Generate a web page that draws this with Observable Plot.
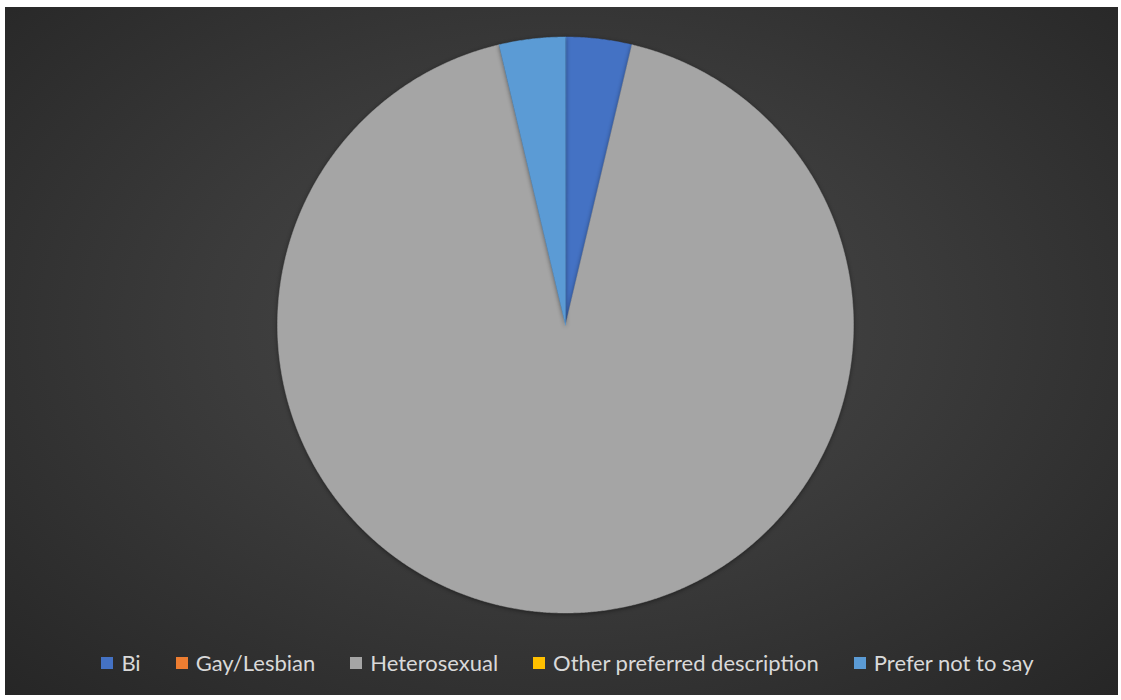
<!DOCTYPE html>
<html>
<head>
<meta charset="utf-8">
<script src="https://cdn.jsdelivr.net/npm/d3@7"></script>
<script src="https://cdn.jsdelivr.net/npm/@observablehq/plot@0.6"></script>
<style>
  html, body { margin: 0; padding: 0; background: #ffffff; }
  #chart {
    position: absolute; left: 5px; top: 7px; width: 1113px; height: 688px;
    background: radial-gradient(ellipse at 50% 46%, #4a4a4a 0%, #3b3b3b 45%, #262626 100%);
    overflow: hidden;
  }
  #plot { position: absolute; left: 0; top: 0; }
  #legend {
    position: absolute; left: 0; width: 1113px; top: 642px;
    display: flex; justify-content: center; gap: 35px;
    font-family: "Lato", "Open Sans", sans-serif; font-size: 22px; color: #d9d9d9;
    padding-left: 12px; box-sizing: border-box;
  }
  .item { display: flex; align-items: center; gap: 8px; white-space: nowrap; }
  .sw { width: 12px; height: 12px; display: inline-block; margin-top: 1px; }
  svg path { filter: drop-shadow(0px 1px 2px rgba(0,0,0,0.45)); }
</style>
</head>
<body>
<div id="chart">
  <div id="plot"></div>
  <div id="legend"></div>
</div>
<script>
const categories = ["Bi", "Gay/Lesbian", "Heterosexual", "Other preferred description", "Prefer not to say"];
const values = [1, 0, 25, 0, 1];
const colors = ["#4472C4", "#ED7D31", "#A5A5A5", "#FFC000", "#5B9BD5"];

const W = 1113, H = 640;
const cx = 560, cy = 317.5, R = 288;

const data = categories.map((c, i) => ({category: c, value: values[i]}));
const arcs = d3.pie().sort(null).value(d => d.value)(data);

// build slice outlines (unit circle) from pie angles
const pts = [];
for (const a of arcs) {
  if (a.endAngle - a.startAngle <= 0) continue;
  const key = a.data.category;
  pts.push({key, x: 0, y: 0});
  const n = Math.max(2, Math.ceil((a.endAngle - a.startAngle) / 0.005));
  for (let k = 0; k <= n; k++) {
    const t = a.startAngle + (a.endAngle - a.startAngle) * k / n;
    pts.push({key, x: Math.sin(t), y: Math.cos(t)});
  }
}

const plot = Plot.plot({
  width: W, height: H,
  margin: 0,
  style: {background: "transparent", overflow: "visible"},
  x: {domain: [-cx / R, (W - cx) / R], axis: null},
  y: {domain: [-(H - cy) / R, cy / R], axis: null},
  color: {domain: categories, range: colors},
  marks: [
    Plot.line(pts, {x: "x", y: "y", z: "key", fill: "key", stroke: "key", strokeWidth: 0.5, curve: "linear-closed"})
  ]
});
document.getElementById("plot").appendChild(plot);

const legend = document.getElementById("legend");
categories.forEach((c, i) => {
  const it = document.createElement("div");
  it.className = "item";
  const sw = document.createElement("span");
  sw.className = "sw";
  sw.style.background = colors[i];
  const tx = document.createElement("span");
  tx.textContent = c;
  it.appendChild(sw); it.appendChild(tx);
  legend.appendChild(it);
});
</script>
</body>
</html>
